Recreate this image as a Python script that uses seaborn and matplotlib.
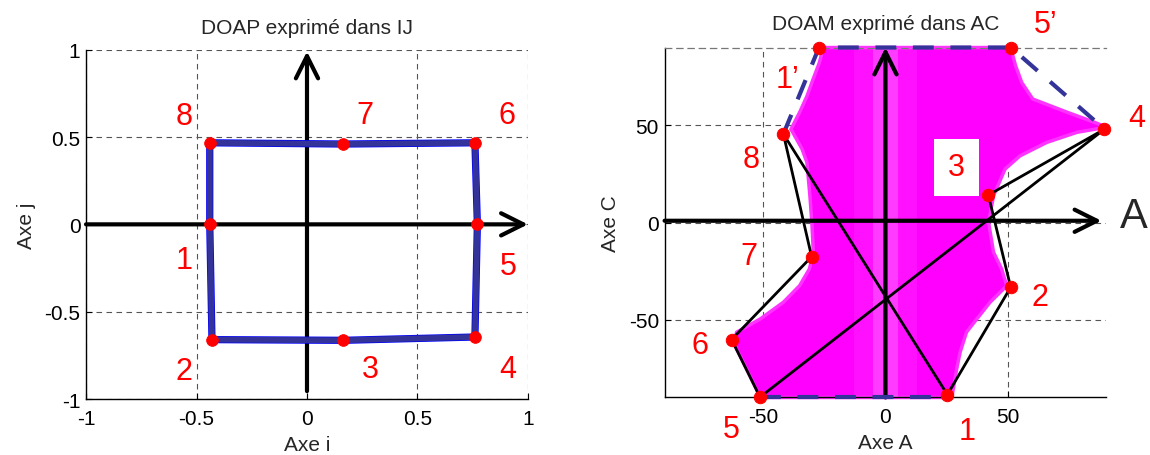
import numpy as np
import pandas as pd
import matplotlib
matplotlib.use('Agg')
import matplotlib.pyplot as plt
import seaborn as sns

# %%
# DOAP in IJ : rectangle points 1..8
ij_labels = ['1', '2', '3', '4', '5', '6', '7', '8']
ij_i = [-0.44, -0.43, 0.164, 0.76, 0.771, 0.76, 0.164, -0.44]
ij_j = [0.0, -0.66, -0.664, -0.645, 0.0, 0.467, 0.46, 0.467]
ij_lab_i = [-0.555, -0.555, 0.288, 0.907, 0.91, 0.904, 0.262, -0.555]
ij_lab_j = [-0.203, -0.841, -0.83, -0.83, -0.241, 0.626, 0.626, 0.62]
ij_ticks = [-1, -0.5, 0, 0.5, 1]
ij_ticklabels = ['-1', '-0.5', '0', '0.5', '1']

# DOAM in AC : points 1..8 + 1', 5'
ac_labels = ['1', '2', '3', '4', '5', '6', '7', '8']
ac_a = [25.2, 51.0, 41.9, 89.2, -51.1, -62.7, -30.1, -41.6]
ac_c = [-88.5, -33.3, 14.1, 48.0, -89.8, -60.2, -17.6, 45.5]
ac_lab_a = [33.2, 63.0, 28.9, 102.4, -62.9, -75.6, -55.6, -54.8]
ac_lab_c = [-107.0, -38.3, 28.4, 54.0, -106.0, -63.0, -17.2, 32.6]
prime_labels = ['1\u2019', '5\u2019']
prime_a = [-27.1, 51.1]
prime_c = [90.0, 90.0]
prime_lab_a = [-39.8, 65.4]
prime_lab_c = [73.7, 102.0]
ac_ticks = [-50, 0, 50]

# magenta reachable zone, boundaries
mag_left_c = [90, 82, 73.7, 65, 56.6, 48, 44.6, 37.8, 30.9, 13.8, 0, -15.3, -23.9,
              -32.5, -41, -49.6, -56.4, -61.6, -75.3, -90]
mag_left_a = [-25.3, -27, -29.5, -32, -35, -38.5, -37, -34, -32, -30.8, -30, -29.4, -31,
              -35, -41.6, -51, -60.6, -62, -56.6, -51]
mag_right_c = [90, 80.6, 72, 63.5, 56.7, 51.6, 49, 46.4, 41.2, 34.3, 27.5, 13.8, 0,
               -15.3, -23.9, -32.5, -41, -49.6, -56.4, -66.7, -75.3, -90]
mag_right_a = [51, 53, 55.5, 60, 74, 85, 90, 78, 65.7, 54.8, 48.7, 44, 42,
               44, 47.3, 49.4, 42.6, 37.2, 33, 30.4, 29, 27]

# %%
sns.set_style('white')
plt.rcParams['font.family'] = ['Liberation Sans', 'DejaVu Sans']
plt.rcParams['font.size'] = 15
plt.rcParams['axes.unicode_minus'] = False

GRID_LS = (0, (5, 4))
NAVY = '#333399'
ARROW = dict(arrowstyle='->,head_length=1.6,head_width=0.8', lw=3, color='black',
             shrinkA=0, shrinkB=0, mutation_scale=10)

fig = plt.figure(figsize=(11.5, 4.56), dpi=100)


def style_axes(ax):
    ax.grid(True, color='#555555', linestyle=GRID_LS, linewidth=0.8)
    ax.set_axisbelow(True)
    for s in ['left', 'bottom']:
        ax.spines[s].set_color('black')
        ax.spines[s].set_linewidth(1)
    ax.spines['right'].set_visible(False)
    ax.tick_params(direction='in', length=4, width=0.8, colors='black', labelsize=15,
                   left=True, bottom=True)
    ax.tick_params(axis='x', pad=7)
    ax.tick_params(axis='y', pad=4)


# %% left plot
ax1 = fig.add_axes([0.0748, 0.1228, 0.3843, 0.766])
ax1.set_xlim(-1, 1)
ax1.set_ylim(-1, 1)
style_axes(ax1)
ax1.spines['top'].set_visible(False)
ax1.set_xticks(ij_ticks)
ax1.set_xticklabels(ij_ticklabels)
ax1.set_yticks(ij_ticks)
ax1.set_yticklabels(ij_ticklabels)

ax1.annotate('', xy=(1.0, 0), xytext=(-1, 0), arrowprops=ARROW, zorder=3)
ax1.annotate('', xy=(0, 0.99), xytext=(0, -0.955), arrowprops=ARROW, zorder=3)

rect = pd.DataFrame({'i': ij_i + [ij_i[0]], 'j': ij_j + [ij_j[0]]})
sns.lineplot(data=rect, x='i', y='j', sort=False, estimator=None, color='blue',
             linewidth=5.2, ax=ax1, zorder=4)
sns.lineplot(data=rect, x='i', y='j', sort=False, estimator=None, color=NAVY,
             linewidth=4.2, ax=ax1, zorder=4)
sns.scatterplot(x=ij_i, y=ij_j, color='red', s=70, edgecolor='red', ax=ax1, zorder=5)
for lab, x, y in zip(ij_labels, ij_lab_i, ij_lab_j):
    ax1.text(x, y, lab, color='red', fontsize=22, ha='center', va='center')

ax1.set_title('DOAP exprimé dans IJ', fontsize=15, pad=12)
ax1.set_xlabel('Axe i', fontsize=15, labelpad=5)
ax1.set_ylabel('Axe j', fontsize=15, labelpad=6)

# %% right plot
ax2 = fig.add_axes([0.5779, 0.1261, 0.3842, 0.7675])
ax2.set_xlim(-90, 90)
ax2.set_ylim(-90, 90)
style_axes(ax2)
ax2.spines['top'].set_linestyle(GRID_LS)
ax2.spines['top'].set_color('#777777')
ax2.spines['top'].set_linewidth(0.9)
ax2.set_xticks(ac_ticks)
ax2.set_yticks(ac_ticks)

# magenta zone
zone_a = mag_left_a[::-1] + mag_right_a
zone_c = mag_left_c[::-1] + mag_right_c
ax2.fill(zone_a, zone_c, color='#ff00ff', lw=2.5, edgecolor='#ff33ff', zorder=1,
         clip_on=False)
ax2.fill_betweenx([-90, 90], -13, 13, color='white', alpha=0.07, lw=0, zorder=1.1)
ax2.fill_betweenx([-90, 90], -5, 5, color='white', alpha=0.18, lw=0, zorder=1.1)

ax2.annotate('', xy=(88, 0.9), xytext=(-90, 0.9), arrowprops=ARROW, zorder=3)
ax2.annotate('', xy=(0, 90), xytext=(0, -90), arrowprops=ARROW, zorder=3)
ax2.text(101, 3.3, 'A', fontsize=30, ha='center', va='center', clip_on=False)

poly = pd.DataFrame({'a': ac_a + [ac_a[0]], 'c': ac_c + [ac_c[0]]})
sns.lineplot(data=poly, x='a', y='c', sort=False, estimator=None, color='black',
             linewidth=2, ax=ax2, zorder=4)

top_a = [ac_a[7], prime_a[0], prime_a[1], ac_a[3]]
top_c = [ac_c[7], prime_c[0], prime_c[1], ac_c[3]]
ax2.plot(top_a, top_c, color=NAVY, lw=3, linestyle=(0, (5, 4)), zorder=4, clip_on=False)
ax2.plot([ac_a[4], ac_a[0]], [ac_c[4], ac_c[4]], color=NAVY, lw=3,
         linestyle=(0, (5, 4)), zorder=4, clip_on=False)

sns.scatterplot(x=ac_a + prime_a, y=ac_c + prime_c, color='red', s=80, edgecolor='red',
                ax=ax2, zorder=5, clip_on=False)

for lab, x, y in zip(ac_labels, ac_lab_a, ac_lab_c):
    if lab == '3':
        ax2.text(x, y, lab, color='red', fontsize=22, ha='center', va='center',
                 bbox=dict(boxstyle='square,pad=0.45', fc='white', ec='none'), zorder=6)
    else:
        ax2.text(x, y, lab, color='red', fontsize=22, ha='center', va='center',
                 clip_on=False, zorder=6)
for lab, x, y in zip(prime_labels, prime_lab_a, prime_lab_c):
    ax2.text(x, y, lab, color='red', fontsize=22, ha='center', va='center',
             clip_on=False, zorder=6)

ax2.set_title('DOAM exprimé dans AC', fontsize=15, pad=13)
ax2.set_xlabel('Axe A', fontsize=15, labelpad=5)
ax2.set_ylabel('Axe C', fontsize=15, labelpad=6)

fig.savefig('out.png', dpi=100)
